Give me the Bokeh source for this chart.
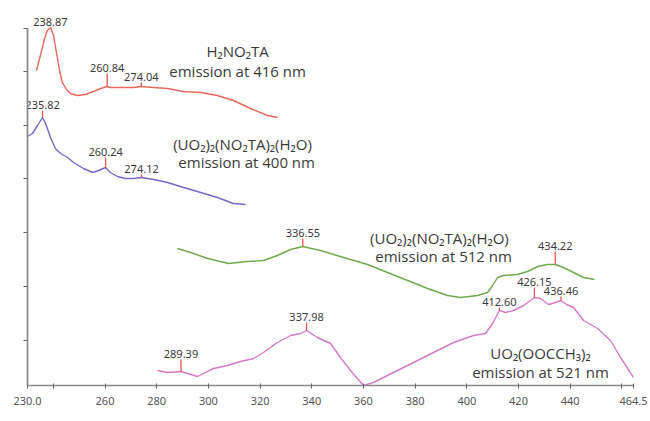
from bokeh.plotting import figure
from bokeh.models import Range1d, FixedTicker, Label, ColumnDataSource
from bokeh.core.properties import value
from bokeh.embed import file_html
from bokeh.resources import INLINE

# ---------------- data (wavelength nm, intensity a.u.) ----------------
red_nm = [233.5, 235.0, 236.6, 237.7, 238.9, 240.1, 241.2, 242.4, 243.5, 245.1, 246.6, 249.3,
          252.4, 255.5, 258.3, 260.8, 262.1, 266.0, 271.0, 274.0, 278.8, 284.2, 290.4, 297.0,
          303.5, 309.7, 316.3, 322.9, 326.8]
red_y = [315, 330, 347, 355, 358, 350, 333, 315, 303, 296, 292, 290,
         291, 294, 297, 299, 298, 298, 298, 299, 298, 297, 294, 293,
         290, 285, 277, 270, 268]

blue_nm = [230.0, 231.9, 233.9, 235.8, 237.0, 238.9, 240.8, 242.8, 245.5, 247.8, 251.7, 255.2,
           257.5, 260.2, 262.1, 264.8, 267.9, 271.0, 274.1, 278.8, 284.2, 290.4, 297.0, 303.5,
           309.7, 314.4]
blue_y = [249, 252, 260, 268, 262, 248, 237, 232, 228, 223, 217, 213,
          215, 218, 213, 209, 207, 207, 208, 206, 203, 198, 193, 188,
          182, 181]

green_nm = [288.0, 293.1, 299.7, 307.8, 315.1, 321.3, 326.7, 331.8, 336.55, 343.4, 352.3, 361.6,
            369.3, 377.1, 384.8, 392.5, 397.6, 404.2, 408.0, 410.0, 411.9, 414.2, 419.6, 423.5,
            427.4, 431.2, 434.22, 437.4, 441.3, 445.2, 449.4]
green_y = [137, 133, 127, 122, 124, 125, 130, 136, 139, 135, 128, 121,
           113, 105, 97, 90, 88, 90, 93, 100, 108, 110, 111, 114,
           119, 121, 121, 118, 113, 108, 106]

pink_nm = [280.3, 284.2, 289.39, 291.9, 295.8, 298.1, 302.0, 307.4, 312.4, 317.5, 321.3, 326.7,
           331.8, 335.7, 337.98, 342.2, 347.3, 351.1, 355.0, 360.0, 363.9, 371.6, 379.4, 387.1,
           394.9, 402.6, 407.2, 410.0, 412.6, 415.0, 418.1, 422.0, 426.15, 428.5, 431.6, 434.3,
           436.46, 438.6, 441.3, 445.2, 450.6, 455.6, 459.5, 464.5]
pink_y = [15, 13, 14, 12, 9, 12, 17, 20, 24, 27, 33, 43,
          50, 52, 55, 48, 42, 28, 15, 0, 3, 13, 23, 33,
          43, 50, 52, 62, 75, 73, 75, 80, 88, 87, 81, 83,
          85, 81, 78, 65, 57, 45, 28, 8]

peak_nm = [238.87, 260.84, 274.04, 235.82, 260.24, 274.12, 336.55, 434.22,
           289.39, 337.98, 412.60, 426.15, 436.46]
peak_y = [358, 299, 299, 268, 217, 208, 139, 121, 14, 55, 75, 88, 85]
peak_labels = ["238.87", "260.84", "274.04", "235.82", "260.24", "274.12", "336.55", "434.22",
               "289.39", "337.98", "412.60", "426.15", "436.46"]

x_ticks = [230, 260, 280, 300, 320, 340, 360, 380, 400, 420, 440, 464.5]
x_unlabelled_ticks = [240, 460]
y_ticks = [45, 99, 153, 207, 260, 314, 357]

name_lines = ["H\u2082NO\u2082TA", "emission at 416 nm",
              "(UO\u2082)\u2082(NO\u2082TA)\u2082(H\u2082O)", "emission at 400 nm",
              "(UO\u2082)\u2082(NO\u2082TA)\u2082(H\u2082O)", "emission at 512 nm",
              "UO\u2082(OOCCH\u2083)\u2082", "emission at 521 nm"]

# ---------------- layout / style ----------------
tick_len = [0, 13, 4, 7, 11, 3, 8, 13, 12, 8, 3, 10, 4]
name_x = [311.3, 311.3, 313.2, 314.8, 389.4, 391.0, 428.5, 428.5]
name_y = [335, 315, 242, 224, 148, 130, 33, 14]

RED = "#e8695c"
BLUE = "#7468cc"
GREEN = "#72a84e"
PINK = "#d57acb"
TXT = "#3a3a3a"
AXIS = "#8c8c8c"
TICK = "#666666"

p = figure(width=648, height=420, output_backend="svg", toolbar_location=None,
           x_range=Range1d(230, 464.5), y_range=Range1d(0, 385),
           min_border_left=27, min_border_right=15, min_border_top=0, min_border_bottom=35)
p.outline_line_color = None
p.xgrid.visible = False
p.ygrid.visible = False
p.background_fill_color = "white"

for xs, ys, c in [(red_nm, red_y, RED), (blue_nm, blue_y, BLUE),
                  (green_nm, green_y, GREEN), (pink_nm, pink_y, PINK)]:
    p.line(xs, ys, line_color=c, line_width=1.4, line_join="round")

# peak markers
tops = [y + t for y, t in zip(peak_y, tick_len)]
p.segment(x0=peak_nm, y0=peak_y, x1=peak_nm, y1=tops, line_color="#e2584e", line_width=1.3)
lab_src = ColumnDataSource(dict(x=peak_nm, y=[t + 2 for t in tops], text=peak_labels))
p.text(x="x", y="y", text="text", source=lab_src, text_align="center",
       text_baseline="bottom", text_font=value("Noto Sans"), text_font_size="11px",
       text_color=TXT)

name_src = ColumnDataSource(dict(x=name_x, y=name_y, text=name_lines))
p.text(x="x", y="y", text="text", source=name_src, text_align="center",
       text_baseline="middle", text_font=value("Open Sans"), text_font_size="15px",
       text_color=TXT)

# axes
xa = p.xaxis[0]
xa.ticker = FixedTicker(ticks=x_ticks, minor_ticks=x_unlabelled_ticks)
xa.major_label_overrides = {230: "230.0"}
xa.bounds = (230, 464.5)
xa.axis_line_color = AXIS
xa.axis_line_width = 1.5
xa.major_tick_line_color = TICK
xa.major_tick_in = 2
xa.major_tick_out = 3
xa.minor_tick_line_color = TICK
xa.minor_tick_in = 2
xa.minor_tick_out = 3
xa.major_label_text_font = "Noto Sans"
xa.major_label_text_font_size = "11px"
xa.major_label_text_color = "#555555"
xa.major_label_standoff = 8

ya = p.yaxis[0]
ya.ticker = FixedTicker(ticks=[], minor_ticks=y_ticks)
ya.bounds = (0, 357)
ya.axis_line_color = AXIS
ya.axis_line_width = 1.8
ya.major_tick_line_color = None
ya.minor_tick_line_color = TICK
ya.minor_tick_in = 0
ya.minor_tick_out = 4
ya.major_label_standoff = 0

p.add_layout(Label(x=344.6, y=-34, text="nm", text_align="center", text_baseline="bottom",
                   text_font_size="10px", text_color="#555555", text_font="Noto Sans"))

open("out.html", "w").write(file_html(p, INLINE))
